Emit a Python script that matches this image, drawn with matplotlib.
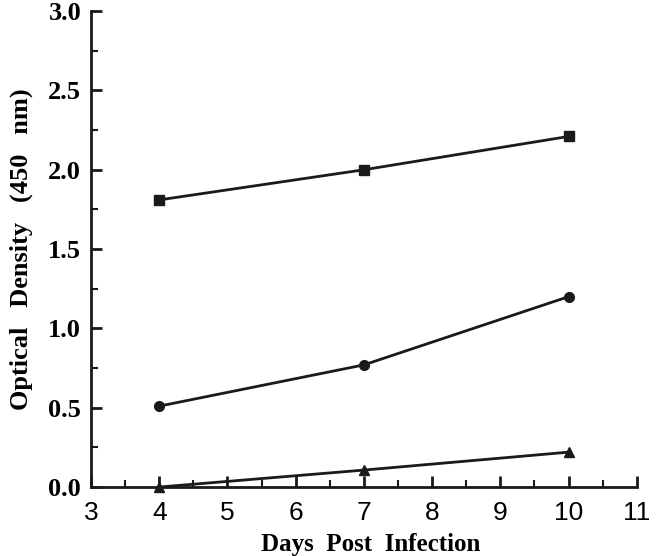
import matplotlib
matplotlib.use("Agg")
import matplotlib.pyplot as plt
from matplotlib.ticker import MultipleLocator, FormatStrFormatter

# dados
dias = [4, 7, 10]
od_quadrado = [1.81, 2.00, 2.21]
od_circulo = [0.51, 0.77, 1.20]
od_triangulo = [0.00, 0.107, 0.22]

fig = plt.figure(figsize=(6.64, 5.56), dpi=100)
ax = fig.add_axes([0.137, 0.124, 0.822, 0.980 - 0.124])

estilo = dict(color='#1a1a1a', linewidth=2, markersize=7)
ax.plot(dias, od_quadrado, marker='s', **estilo)
ax.plot(dias, od_circulo, marker='o', **estilo)
ax.plot(dias, od_triangulo, marker='^', **estilo, clip_on=False)

ax.set_xlim(3, 11)
ax.set_ylim(0, 3.0)
ax.xaxis.set_major_locator(MultipleLocator(1))
ax.xaxis.set_minor_locator(MultipleLocator(0.5))
ax.yaxis.set_major_locator(MultipleLocator(0.5))
ax.yaxis.set_minor_locator(MultipleLocator(0.25))
ax.yaxis.set_major_formatter(FormatStrFormatter('%.1f'))

for lado in ['top', 'right']:
    ax.spines[lado].set_visible(False)
for lado in ['left', 'bottom']:
    ax.spines[lado].set_linewidth(2)
    ax.spines[lado].set_color('#1a1a1a')

ax.tick_params(which='major', direction='in', length=8, width=2, color='#1a1a1a')
ax.tick_params(which='minor', direction='in', length=5, width=1.5, color='#1a1a1a')
ax.tick_params(axis='y', pad=7)
ax.tick_params(axis='x', pad=10)

for rotulo in ax.get_yticklabels():
    rotulo.set_fontfamily('Liberation Serif')
    rotulo.set_fontweight('bold')
    rotulo.set_fontsize(19)
for rotulo in ax.get_xticklabels():
    rotulo.set_fontfamily('Liberation Sans')
    rotulo.set_fontsize(19)

ax.set_xlabel('Days  Post  Infection', fontfamily='Liberation Serif', fontweight='bold', fontsize=18)
ax.set_ylabel('Optical   Density   (450   nm)', fontfamily='Liberation Serif', fontweight='bold', fontsize=19)
ax.xaxis.set_label_coords(0.513, -0.097)
ax.yaxis.set_label_coords(-0.106, 0.5)

fig.savefig('out.png', dpi=100)
